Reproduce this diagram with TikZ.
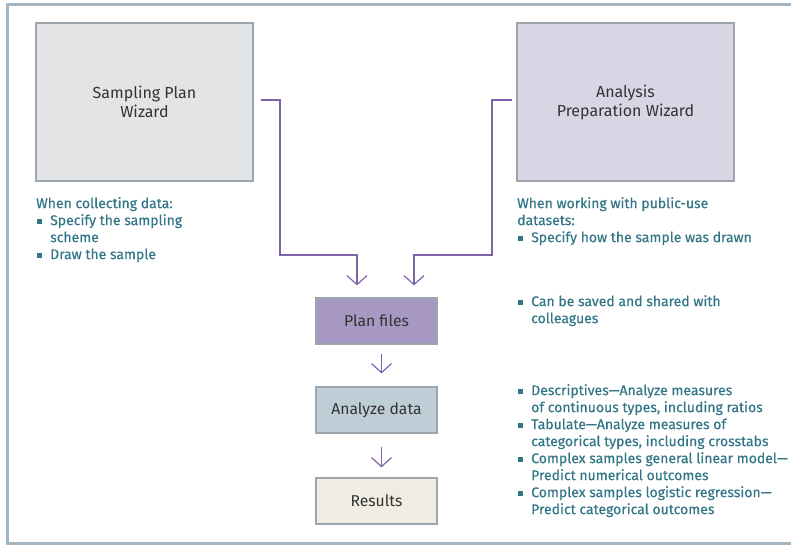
\documentclass[tikz,border=0pt]{standalone}
\usepackage{fontspec}
\setmainfont{Fira Sans}
\newfontfamily\notefont{Fira Sans}[Ligatures=TeX,FakeBold=0.4]
\usepackage{xcolor}
\usetikzlibrary{arrows.meta,positioning}

\definecolor{framecol}{HTML}{A3B6C2}
\definecolor{boxline}{HTML}{9DA6AC}
\definecolor{sampfill}{HTML}{E3E4E6}
\definecolor{prepfill}{HTML}{D9D5E5}
\definecolor{planfill}{HTML}{A898C4}
\definecolor{analfill}{HTML}{BFCDD6}
\definecolor{resfill}{HTML}{EFECE1}
\definecolor{notecol}{HTML}{337687}
\definecolor{linkcol}{HTML}{7E63AB}
\definecolor{boxtext}{HTML}{333333}

\newcommand{\bul}{\makebox[14pt][l]{\hspace{1pt}\rule[1.5pt]{5pt}{5pt}}}
\newcommand{\ind}{\hspace*{14pt}}

\tikzset{
  wizard/.style={draw=boxline,line width=1.2pt,minimum width=217pt,minimum height=158pt,
    align=center,text=boxtext,font=\fontsize{16}{19}\selectfont,inner sep=0pt},
  stage/.style={draw=boxline,line width=1.2pt,minimum width=121pt,minimum height=46pt,
    text=boxtext,font=\fontsize{15.7}{19}\selectfont,inner sep=0pt},
  note/.style={anchor=north west,align=left,text=notecol,inner sep=0pt,
    font=\notefont\fontsize{14}{17}\selectfont},
  link/.style={draw=linkcol,line width=1.2pt,-{Straight Barb[length=9pt,width=20pt,line width=1.2pt]}},
}

\begin{document}
\begin{tikzpicture}[x=1pt,y=-1pt]
\useasboundingbox (0,0) rectangle (791,546);
% frame, open at the right
\draw[framecol,line width=3pt] (791,4.5) -- (7.5,4.5) -- (7.5,543.5) -- (791,543.5);

% wizards
\node[wizard,fill=sampfill] (samp) at (144.5,102) {Sampling Plan\\Wizard};
\node[wizard,fill=prepfill] (prep) at (625.5,102) {Analysis\\Preparation Wizard};

% stages
\node[stage,fill=planfill] (plan) at (376.5,321) {Plan files};
\node[stage,fill=analfill] (anal) at (376.5,410) {Analyze data};
\node[stage,fill=resfill]  (res)  at (376.5,501) {Results};

% notes
\node[note] (collect) at (36,197) {When collecting data:\\
  \bul Specify the sampling\\ \ind scheme\\ \bul Draw the sample};
\node[note] (public) at (517,197) {When working with public-use\\
  datasets:\\ \bul Specify how the sample was drawn};
\node[note] (shared) at (517,295) {\bul Can be saved and shared with\\ \ind colleagues};
\node[note] (procs) at (517,384) {\bul Descriptives---Analyze measures\\
  \ind of continuous types, including ratios\\
  \bul Tabulate---Analyze measures of\\
  \ind categorical types, including crosstabs\\
  \bul Complex samples general linear model---\\
  \ind Predict numerical outcomes\\
  \bul Complex samples logistic regression---\\
  \ind Predict categorical outcomes};

% connectors
\coordinate (lbend) at (280,255);
\coordinate (rbend) at (492,255);
\draw[link] ([shift={(7,-2)}]samp.east) -| (lbend) -| ([shift={(-19.5,-12)}]plan.north);
\draw[link] ([shift={(-4,-2)}]prep.west) -| (rbend) -| ([shift={(37.5,-12)}]plan.north);
\draw[link,shorten <=9pt,shorten >=13pt] ([xshift=5pt]plan.south) -- ([xshift=5pt]anal.north);
\draw[link,shorten <=13pt,shorten >=10pt] ([xshift=5pt]anal.south) -- ([xshift=5pt]res.north);
\end{tikzpicture}
\end{document}
